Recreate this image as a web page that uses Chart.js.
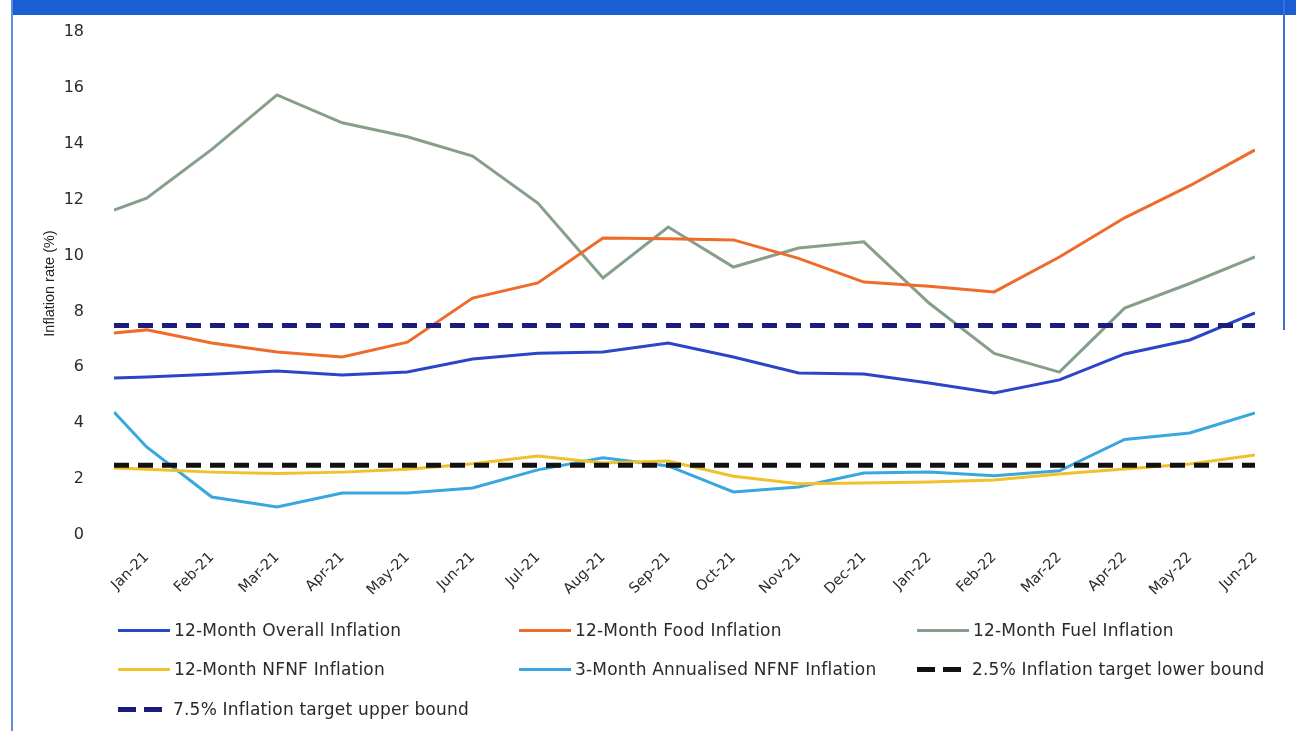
<!DOCTYPE html>
<html>
<head>
<meta charset="utf-8">
<title>Inflation</title>
<script src="https://cdn.jsdelivr.net/npm/chart.js@4.4.1/dist/chart.umd.min.js"></script>
<style>
  html, body { margin: 0; padding: 0; background: #fff; }
  body { width: 1296px; height: 731px; overflow: hidden; position: relative; font-family: 'DejaVu Sans', sans-serif; }
  .topbar { position: absolute; left: 12px; top: 0; right: 0; height: 15px; background: #1b5ed3; z-index: 2; }
  .edge-left { position: absolute; left: 11px; top: 0; bottom: 0; width: 2px; background: #5a8ddc; z-index: 2; }
  .edge-right { position: absolute; left: 1283px; top: 0; height: 330px; width: 2px; background: #3a6fd8; z-index: 2; }
  .wrap { position: absolute; left: 0; top: 0; width: 1296px; height: 610px; }
  #legend { position: absolute; left: 0; top: 0; width: 1296px; height: 731px; pointer-events: none; }
  .item { position: absolute; display: flex; align-items: center; font-size: 17px; letter-spacing: 0.2px; color: #2a2a2a; white-space: nowrap; height: 20px; }
  .sw { position: relative; height: 5px; margin-right: 4px; }
</style>
</head>
<body>
<div class="topbar"></div>
<div class="edge-left"></div>
<div class="edge-right"></div>
<div class="wrap"><canvas id="chart"></canvas></div>
<div id="legend"></div>
<script>
(function () {
  'use strict';

  // tick labels, Jan-21 .. Jun-22
  var months = ['Jan-21', 'Feb-21', 'Mar-21', 'Apr-21', 'May-21', 'Jun-21', 'Jul-21', 'Aug-21', 'Sep-21',
    'Oct-21', 'Nov-21', 'Dec-21', 'Jan-22', 'Feb-22', 'Mar-22', 'Apr-22', 'May-22', 'Jun-22'];

  // month index of each point; the lines start half a month before Jan-21
  var xPos = [-0.5, 0, 1, 2, 3, 4, 5, 6, 7, 8, 9, 10, 11, 12, 13, 14, 15, 16, 17];

  var overall = [5.62, 5.65, 5.75, 5.87, 5.73, 5.83, 6.3, 6.5, 6.55, 6.87, 6.37, 5.8, 5.76, 5.44, 5.08, 5.55, 6.48, 6.98, 7.95];
  var food = [7.23, 7.34, 6.87, 6.55, 6.37, 6.9, 8.48, 9.02, 10.63, 10.6, 10.56, 9.9, 9.05, 8.9, 8.7, 9.95, 11.35, 12.5, 13.78];
  var fuel = [11.63, 12.05, 13.8, 15.75, 14.75, 14.25, 13.56, 11.88, 9.2, 11.02, 9.59, 10.27, 10.49, 8.3, 6.5, 5.83, 8.12, 9.0, 9.95];
  var nfnf = [2.4, 2.35, 2.25, 2.2, 2.25, 2.35, 2.55, 2.83, 2.58, 2.65, 2.1, 1.83, 1.86, 1.9, 1.97, 2.18, 2.36, 2.54, 2.86];
  var nfnf3m = [4.4, 3.15, 1.36, 1.0, 1.5, 1.5, 1.68, 2.33, 2.76, 2.47, 1.54, 1.72, 2.22, 2.25, 2.12, 2.3, 3.42, 3.65, 4.37];
  var lowerBound = [2.5, 2.5, 2.5, 2.5, 2.5, 2.5, 2.5, 2.5, 2.5, 2.5, 2.5, 2.5, 2.5, 2.5, 2.5, 2.5, 2.5, 2.5, 2.5];
  var upperBound = [7.5, 7.5, 7.5, 7.5, 7.5, 7.5, 7.5, 7.5, 7.5, 7.5, 7.5, 7.5, 7.5, 7.5, 7.5, 7.5, 7.5, 7.5, 7.5];

  var yTicks = [0, 2, 4, 6, 8, 10, 12, 14, 16, 18];

  function pts(arr) {
    return arr.map(function (v, i) { return { x: xPos[i], y: v }; });
  }

  function line(label, data, color, dashed, order) {
    return {
      label: label,
      data: pts(data),
      borderColor: color,
      backgroundColor: color,
      borderWidth: dashed ? 5 : 3,
      borderDash: dashed ? [15, 9] : [],
      pointRadius: 0,
      tension: 0,
      fill: false,
      order: order
    };
  }

  var datasets = [
    line('12-Month Overall Inflation', overall, '#2b45c8', false, 2),
    line('12-Month Food Inflation', food, '#ef6b2a', false, 2),
    line('12-Month Fuel Inflation', fuel, '#869f8b', false, 3),
    line('12-Month NFNF Inflation', nfnf, '#f0c12a', false, 2),
    line('3-Month Annualised NFNF Inflation', nfnf3m, '#3aa6de', false, 2),
    line('2.5% Inflation target lower bound', lowerBound, '#111111', true, 1),
    line('7.5% Inflation target upper bound', upperBound, '#1c1c7e', true, 1)
  ];

  var chart = new Chart(document.getElementById('chart'), {
    type: 'line',
    data: { datasets: datasets },
    options: {
      responsive: true,
      maintainAspectRatio: false,
      animation: false,
      layout: { padding: { left: 30, top: 32, right: 41, bottom: 0 } },
      plugins: { legend: { display: false }, tooltip: { enabled: false } },
      scales: {
        x: {
          type: 'linear',
          min: -0.5,
          max: 17,
          grid: { display: false },
          border: { display: false },
          afterBuildTicks: function (scale) {
            scale.ticks = scale.ticks.filter(function (t) { return Number.isInteger(t.value); });
          },
          afterFit: function (scale) { scale.height = 75; },
          ticks: {
            stepSize: 1,
            autoSkip: false,
            minRotation: 45,
            maxRotation: 45,
            padding: 6,
            color: '#2a2a2a',
            font: { family: 'DejaVu Sans', size: 14.5 },
            callback: function (v) { return months[v]; }
          }
        },
        y: {
          min: 0,
          max: 18,
          grid: { display: false },
          border: { display: false },
          afterBuildTicks: function (scale) {
            scale.ticks = yTicks.map(function (v) { return { value: v }; });
          },
          afterFit: function (scale) { scale.width = 84; },
          ticks: {
            padding: 22,
            color: '#2a2a2a',
            font: { family: 'DejaVu Sans', size: 16 }
          },
          title: {
            display: true,
            text: 'Inflation rate (%)',
            color: '#222',
            padding: { top: 11, bottom: 0 },
            font: { family: 'Liberation Sans', size: 14.5 }
          }
        }
      }
    }
  });

  // HTML legend in three columns
  var colX = [118, 519, 917];
  var rowY = [620, 659, 699];
  var legendEl = document.getElementById('legend');
  chart.data.datasets.forEach(function (ds, i) {
    var item = document.createElement('div');
    item.className = 'item';
    item.style.left = colX[i % 3] + 'px';
    item.style.top = rowY[Math.floor(i / 3)] + 'px';
    var sw = document.createElement('span');
    sw.className = 'sw';
    if (ds.borderDash.length) {
      sw.style.width = '46px';
      sw.style.height = '5px';
      sw.style.background = 'repeating-linear-gradient(90deg,' + ds.borderColor + ' 0 18px, transparent 18px 26px)';
      sw.style.marginRight = '9px';
    } else {
      sw.style.width = '52px';
      sw.style.height = '3px';
      sw.style.background = ds.borderColor;
      sw.style.marginRight = '4px';
    }
    item.appendChild(sw);
    item.appendChild(document.createTextNode(ds.label));
    legendEl.appendChild(item);
  });
})();
</script>
</body>
</html>
